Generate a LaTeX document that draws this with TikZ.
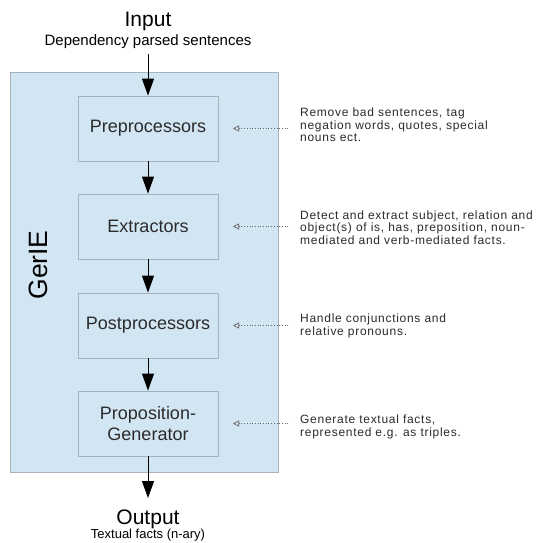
\documentclass[tikz,border=0pt]{standalone}
\usepackage{fontspec}
\setmainfont{Liberation Sans}
\newfontfamily\notefont[LetterSpace=6]{Liberation Sans}
\usetikzlibrary{arrows.meta}
\definecolor{panel}{HTML}{D2E5F3}
\definecolor{edge}{HTML}{A7B2BC}
\definecolor{ink}{HTML}{2B2B2B}
\tikzset{
  stage/.style={draw=edge, fill=panel, line width=0.8pt, minimum width=140pt, minimum height=65pt, inner sep=0pt, font=\fontsize{18}{20.5}\selectfont, text=ink, align=center},
  flow/.style={draw=black, line width=1pt, -{Triangle[width=12pt,length=17pt]}},
  note/.style={anchor=west, align=left, text=ink, font=\notefont\fontsize{12}{12.5}\selectfont, inner sep=0pt},
  hint/.style={draw=gray!80!black, line width=0.7pt, dotted, -{Triangle[open,width=6pt,length=6pt]}},
}
\begin{document}
\begin{tikzpicture}[x=1pt,y=-1pt]
\useasboundingbox (0,0) rectangle (539,543);
\fill[white] (0,0) rectangle (539,543);
\node[draw=edge, fill=panel, line width=0.8pt, minimum width=268pt, minimum height=400pt, inner sep=0pt] (frame) at (144,272.5) {};
\node[rotate=90, font=\fontsize{26.5}{30}\selectfont, text=black] (gerie) at (38,265) {GerIE};

\node[text=black, font=\fontsize{21}{23}\selectfont, inner sep=0pt] (input) at (148,21) {Input};
\node[text=black, font=\fontsize{15}{17}\selectfont, inner sep=0pt] (insub) at (148,42) {Dependency parsed sentences};
\coordinate (instart) at (148,54);

\node[stage] (pre) at (148,128.5) {Preprocessors};
\node[stage] (ext) at (148,226.5) {Extractors};
\node[stage] (post) at (148,325.5) {Postprocessors};
\node[stage] (gen) at (148,423.5) {Proposition-\\Generator};

\node[text=black, font=\fontsize{21}{23}\selectfont, inner sep=0pt] (output) at (148,519) {Output};
\node[text=black, font=\fontsize{13}{15}\selectfont, inner sep=0pt] (outsub) at (148,535) {Textual facts (n-ary)};
\coordinate (outend) at (148,498);

\draw[flow] (instart) -- (pre.north);
\draw[flow] (pre) -- (ext);
\draw[flow] (ext) -- (post);
\draw[flow] (post) -- (gen);
\draw[flow] (gen.south) -- (outend);

\node[note] (n1) at (300,125) {Remove bad sentences, tag\\negation words, quotes, special\\nouns ect.};
\node[note] (n2) at (300,227.5) {Detect and extract subject, relation and\\object(s) of is, has, preposition, noun-\\mediated and verb-mediated facts.};
\node[note] (n3) at (300,326) {Handle conjunctions and\\relative pronouns.};
\node[note] (n4) at (300,427) {Generate textual facts,\\represented e.g. as triples.};

\coordinate (h1) at (233,128.5);
\coordinate (h2) at (233,226.5);
\coordinate (h3) at (233,325.5);
\coordinate (h4) at (233,423.5);
\draw[hint] (n1.west |- h1) ++(-12,0) -- (h1);
\draw[hint] (n2.west |- h2) ++(-12,0) -- (h2);
\draw[hint] (n3.west |- h3) ++(-12,0) -- (h3);
\draw[hint] (n4.west |- h4) ++(-12,0) -- (h4);
\end{tikzpicture}
\end{document}
